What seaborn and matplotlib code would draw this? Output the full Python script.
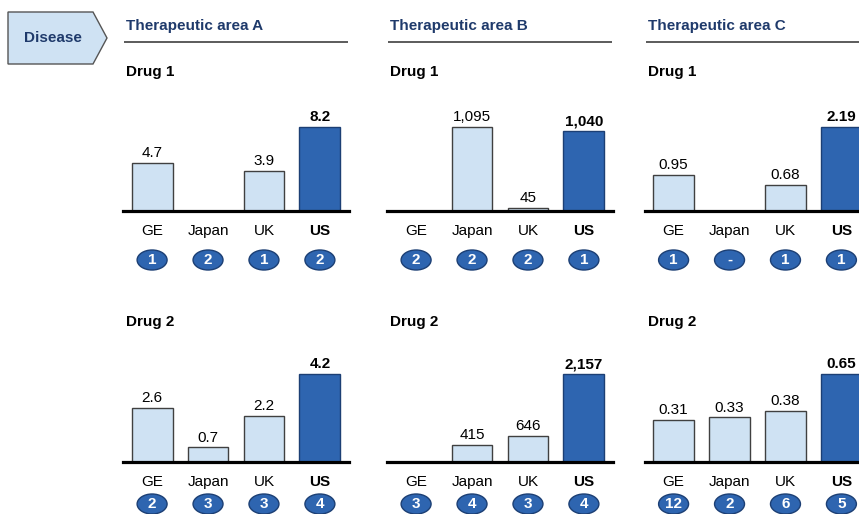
import numpy as np
import pandas as pd
import matplotlib
matplotlib.use("Agg")
import matplotlib.pyplot as plt
from matplotlib.patches import Ellipse, Polygon
from matplotlib.transforms import blended_transform_factory
import seaborn as sns

sns.set_theme(style="white")
plt.rcParams["font.family"] = ["Liberation Sans", "DejaVu Sans"]

# ---- data ----
countries = ["GE", "Japan", "UK", "US"]
areas = ["Therapeutic area A", "Therapeutic area B", "Therapeutic area C"]
drugs = ["Drug 1", "Drug 2"]
value_formats = ["{:.1f}", "{:,.0f}", "{:.2f}"]

area_a_drug1 = [4.7, np.nan, 3.9, 8.2]
area_b_drug1 = [np.nan, 1095, 45, 1040]
area_c_drug1 = [0.95, np.nan, 0.68, 2.19]
area_a_drug2 = [2.6, 0.7, 2.2, 4.2]
area_b_drug2 = [np.nan, 415, 646, 2157]
area_c_drug2 = [0.31, 0.33, 0.38, 0.65]

rank_a_drug1 = ["1", "2", "1", "2"]
rank_b_drug1 = ["2", "2", "2", "1"]
rank_c_drug1 = ["1", "-", "1", "1"]
rank_a_drug2 = ["2", "3", "3", "4"]
rank_b_drug2 = ["3", "4", "3", "4"]
rank_c_drug2 = ["12", "2", "6", "5"]

values = [[area_a_drug1, area_b_drug1, area_c_drug1],
          [area_a_drug2, area_b_drug2, area_c_drug2]]
ranks = [[rank_a_drug1, rank_b_drug1, rank_c_drug1],
         [rank_a_drug2, rank_b_drug2, rank_c_drug2]]

# ---- style ----
NAVY = "#1f3a6b"
DARK = "#2e65b0"
DARK_EDGE = "#1c3f74"
LIGHT = "#cfe2f3"
LIGHT_EDGE = "#404040"
palette = {"GE": LIGHT, "Japan": LIGHT, "UK": LIGHT, "US": DARK}
FS = 11

W, H = 859, 514
fig = plt.figure(figsize=(W / 100, H / 100), dpi=100)

# overlay in pixel coordinates for the frame decorations
deco = fig.add_axes([0, 0, 1, 1])
deco.set_xlim(0, W)
deco.set_ylim(H, 0)
deco.axis("off")

deco.add_patch(Polygon([(8, 12), (93, 12), (107, 38), (93, 64), (8, 64)],
                       closed=True, facecolor=LIGHT, edgecolor="#555555", lw=1))
deco.text(53, 38.5, "Disease", ha="center", va="center", fontsize=FS,
          fontweight="bold", color=NAVY)

panel_left = [123, 387, 644.5]
panel_width = 226
baselines = [211, 462]
drug_label_y = [72, 322]
badge_offset = [49, 42]
axes_height = 120
peak_height = [84, 88]

for j, area in enumerate(areas):
    x0 = panel_left[j]
    deco.text(x0 + 3, 26, area, ha="left", va="center", fontsize=FS,
              fontweight="bold", color=NAVY)
    deco.plot([x0 + 1, x0 + 225], [41.5, 41.5], color="#404040", lw=1.2,
              solid_capstyle="butt")
    for i, drug in enumerate(drugs):
        deco.text(x0 + 3, drug_label_y[i], drug, ha="left", va="center",
                  fontsize=FS, fontweight="bold", color="black")

        base = baselines[i]
        ax = fig.add_axes([x0 / W, 1 - base / H, panel_width / W, axes_height / H])
        df = pd.DataFrame({"country": countries, "value": values[i][j]})
        sns.barplot(data=df, x="country", y="value", hue="country",
                    order=countries, hue_order=countries, palette=palette,
                    width=0.73, saturation=1, legend=False, ax=ax)
        for patch in ax.patches:
            fc = patch.get_facecolor()
            is_dark = np.allclose(fc[:3], matplotlib.colors.to_rgb(DARK))
            patch.set_edgecolor(DARK_EDGE if is_dark else LIGHT_EDGE)
            patch.set_linewidth(1.0)

        vmax = np.nanmax(values[i][j])
        ax.set_ylim(0, vmax * axes_height / peak_height[i])
        ax.set_xlim(-0.52, 3.52)

        for k, v in enumerate(values[i][j]):
            if np.isnan(v):
                continue
            ax.annotate(value_formats[j].format(v), (k, v), xytext=(0, 2),
                        textcoords="offset points", ha="center", va="bottom",
                        fontsize=FS, color="black",
                        fontweight="bold" if countries[k] == "US" else "normal")

        ax.set_xlabel("")
        ax.set_ylabel("")
        ax.set_yticks([])
        ax.set_xticks(range(len(countries)))
        ax.set_xticklabels(countries, fontsize=FS)
        for lbl in ax.get_xticklabels():
            if lbl.get_text() == "US":
                lbl.set_fontweight("bold")
        ax.tick_params(axis="x", length=0, pad=9.5, colors="black")
        for side in ["top", "left", "right"]:
            ax.spines[side].set_visible(False)
        ax.spines["bottom"].set_linewidth(2.3)
        ax.spines["bottom"].set_color("black")
        ax.set_facecolor("none")

        # rank badges under each country
        trans = blended_transform_factory(ax.transData, ax.transAxes)
        badge_y = -badge_offset[i] / axes_height
        for k, r in enumerate(ranks[i][j]):
            ax.add_patch(Ellipse((k, badge_y), 30 / 56, 20 / axes_height,
                                 transform=trans, facecolor=DARK,
                                 edgecolor=DARK_EDGE, lw=1, clip_on=False))
            ax.text(k, badge_y, r, transform=trans, ha="center", va="center",
                    fontsize=FS, fontweight="bold", color="white", clip_on=False)

fig.savefig("out.png", dpi=100)
